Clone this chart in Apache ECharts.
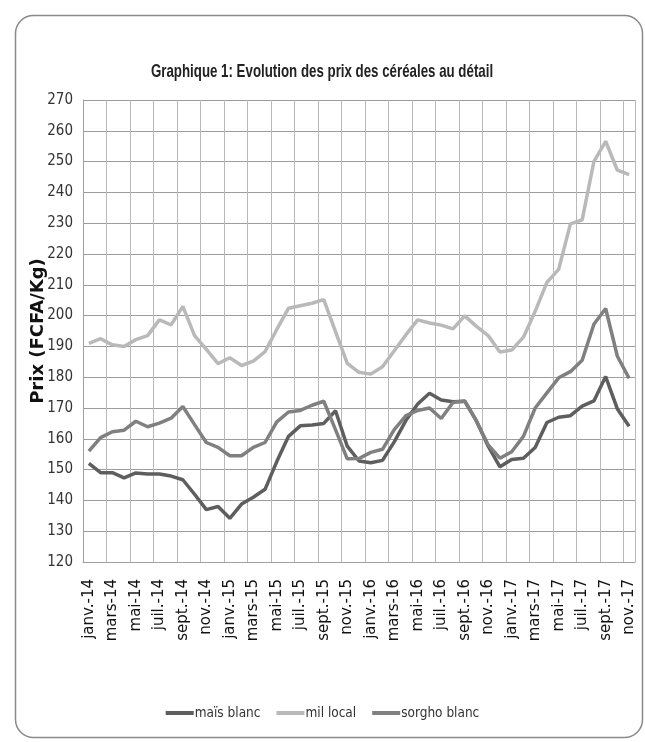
<!DOCTYPE html>
<html>
<head>
<meta charset="utf-8">
<script src="https://cdn.jsdelivr.net/npm/echarts@6/dist/echarts.min.js"></script>
<style>
html,body{margin:0;padding:0;background:#fff;}
#chart{width:645px;height:742px;}
</style>
</head>
<body>
<div id="chart"></div>
<script>
const months = ['janv.','févr.','mars','avr.','mai','juin','juil.','août','sept.','oct.','nov.','déc.'];
const years = ['14','15','16','17'];
const categories = [];
for (const y of years) for (const m of months) categories.push(m + '-' + y);
categories.length = 47; // janv.-14 .. nov.-17

const maisBlanc = [152, 149, 149, 147.3, 148.9, 148.6, 148.6, 147.9, 146.7, 142, 137, 138, 134.2, 138.8, 141, 143.6,
  152.6, 160.8, 164.2, 164.5, 165, 169.1, 157.6, 152.8, 152.2, 153, 159, 166, 171.3, 174.8, 172.6, 172, 172.2,
  165.8, 157.6, 150.9, 153.3, 153.7, 157.2, 165.3, 167, 167.5, 170.6, 172.3, 180.2, 169.7, 164.1];
const milLocal = [191, 192.5, 190.5, 190, 192.2, 193.5, 198.6, 197, 203, 193.5, 189, 184.4, 186.3, 183.8, 185.2, 188.3,
  195.5, 202.4, 203.2, 204, 205.2, 194.8, 184.5, 181.6, 181, 183.4, 188.6, 193.8, 198.6, 197.6, 196.9, 195.7, 199.9,
  196.5, 193.5, 188.2, 188.8, 193, 201.4, 210.8, 215, 229.8, 231.1, 250, 256.6, 247.2, 245.8];
const sorghoBlanc = [156, 160.4, 162.3, 162.8, 165.7, 163.9, 165.1, 166.7, 170.5, 164.6, 158.8, 157.2, 154.5, 154.5, 157.2, 158.8,
  165.5, 168.7, 169.2, 170.9, 172.2, 163, 153.5, 153.6, 155.6, 156.6, 163, 167.5, 169.2, 170, 166.6, 171.8, 172.3,
  165.8, 158, 153.7, 155.8, 160.8, 170, 174.9, 179.8, 181.8, 185.5, 197.2, 202.3, 186.8, 179.6];

const seriesNames = ['maïs blanc', 'mil local', 'sorgho blanc'];
const seriesColors = ['#5e5e5e', '#b9b9b9', '#808080'];
const yMin = 120, yMax = 270, yStep = 10;
const titleText = 'Graphique 1: Evolution des prix des céréales au détail';

const chart = echarts.init(document.getElementById('chart'), null, {renderer: 'canvas'});
const dataSets = [maisBlanc, milLocal, sorghoBlanc];
chart.setOption({
  animation: false,
  backgroundColor: '#fff',
  graphic: [{
    type: 'rect', left: 13, top: 13,
    shape: {width: 627, height: 722, r: 18},
    style: {fill: 'none', stroke: '#8a8a8a', lineWidth: 1.5},
    silent: true, z: -1
  }, {
    type: 'text', x: 322, y: 72, scaleX: 0.7, scaleY: 1,
    style: {
      text: titleText, x: 0, y: 0, align: 'center', verticalAlign: 'middle',
      font: 'bold 19px "Liberation Sans"', fill: '#222'
    },
    silent: true
  }],
  legend: {
    data: seriesNames,
    left: 'center', top: 701,
    icon: 'rect', itemWidth: 28, itemHeight: 4, itemGap: 16,
    textStyle: {fontFamily: 'DejaVu Sans Condensed', fontSize: 13.5, color: '#333', padding: [0,0,0,-4]}
  },
  grid: {left: 83, right: 10, top: 100, bottom: 180},
  xAxis: {
    type: 'category',
    data: categories,
    boundaryGap: true,
    axisLine: {show: true, lineStyle: {color: '#a0a0a0', width: 1}},
    axisTick: {show: false},
    axisLabel: {interval: 1, rotate: 90, margin: 17, fontFamily: 'DejaVu Sans', fontSize: 15, color: '#111'},
    splitLine: {show: true, interval: 1, lineStyle: {color: '#b8b8b8', width: 1}}
  },
  yAxis: {
    type: 'value', min: yMin, max: yMax, interval: yStep,
    name: 'Prix (FCFA/Kg)', nameLocation: 'middle', nameGap: 36, nameRotate: 90,
    nameMoveOverlap: false,
    nameTextStyle: {fontFamily: 'DejaVu Sans', fontWeight: 'bold', fontSize: 18, color: '#111'},
    axisLine: {show: true, lineStyle: {color: '#a0a0a0'}},
    axisTick: {show: false},
    axisLabel: {fontFamily: 'DejaVu Sans Condensed', fontSize: 15, color: '#333', margin: 10},
    splitLine: {show: true, lineStyle: {color: '#9c9c9c', width: 1}}
  },
  series: dataSets.map((d, i) => ({
    name: seriesNames[i], type: 'line', data: d,
    symbol: 'none', smooth: false,
    lineStyle: {color: seriesColors[i], width: 3.5},
    itemStyle: {color: seriesColors[i]},
    z: i === 1 ? 3 : 2
  }))
});
</script>
</body>
</html>
